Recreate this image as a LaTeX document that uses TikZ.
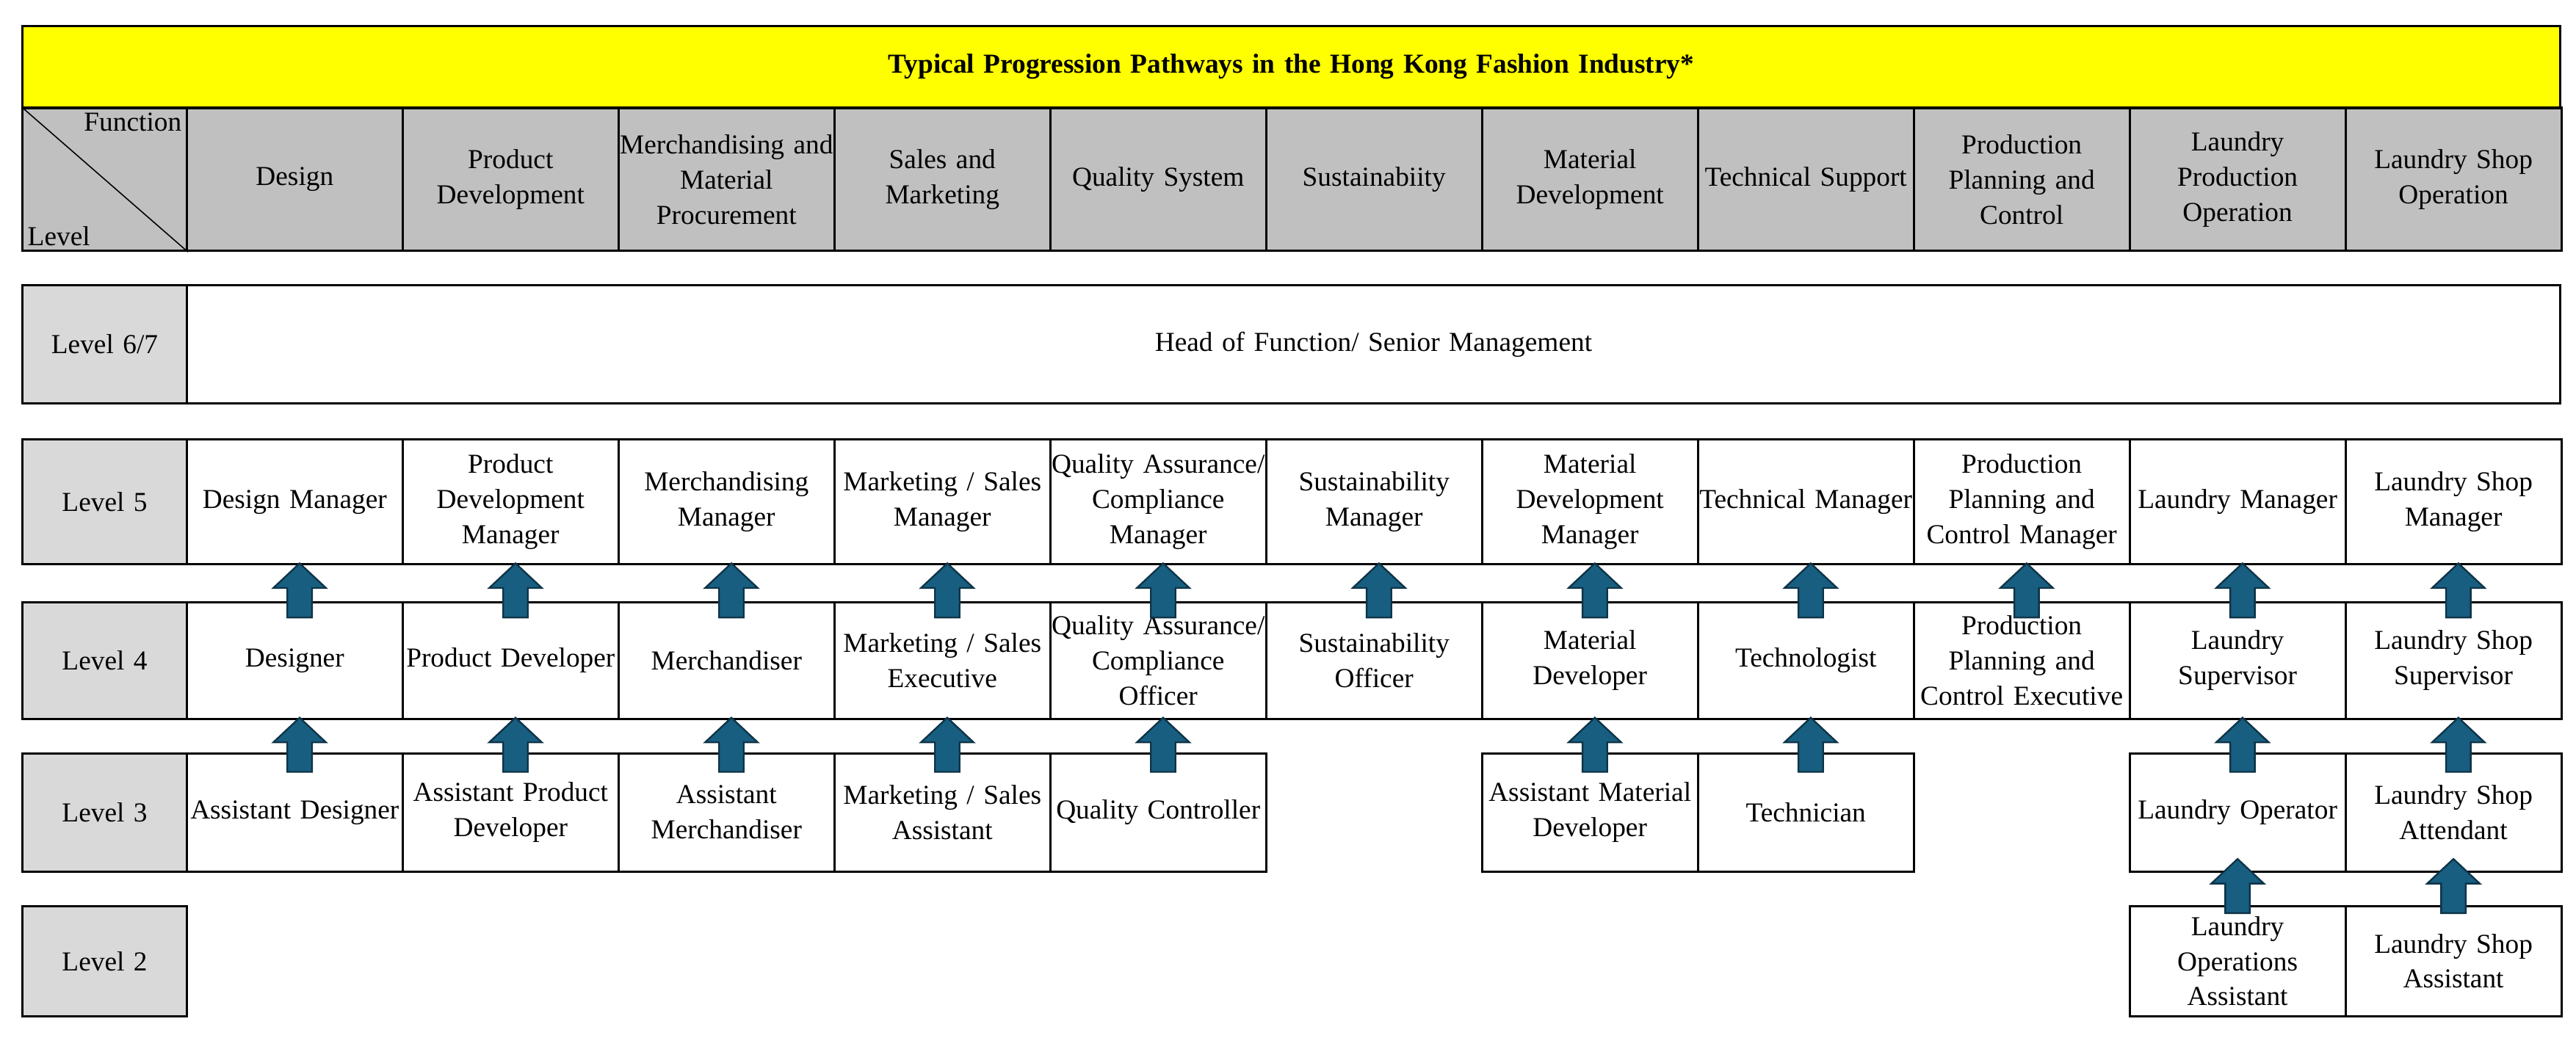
\documentclass[tikz,border=0pt]{standalone}
\usepackage{fontspec}
\setmainfont{Liberation Serif}
\usetikzlibrary{calc}
\definecolor{titleyellow}{RGB}{255,255,0}
\definecolor{headgray}{RGB}{192,192,192}
\definecolor{levelgray}{RGB}{217,217,217}
\definecolor{arrowblue}{RGB}{24,94,128}
\definecolor{arrowedge}{RGB}{14,52,72}
\newcommand\cellfont{\fontsize{9.5}{12.2}\selectfont}

\begin{document}
\begin{tikzpicture}[x=0.02cm,y=-0.02cm,
    cell/.style={draw, line width=0.8pt, anchor=north west, inner sep=0pt, align=center,
      text width=2.6cm, minimum width=2.628cm, font=\cellfont},
    head/.style={cell, fill=headgray, minimum height=1.74cm},
    lvl/.style={cell, fill=levelgray, text width=1.9cm, minimum width=2cm},
    uparr/.pic={\filldraw[fill=arrowblue, draw=arrowedge, line width=0.6pt]
      (-7.5,0) -- (-7.5,-18) -- (-16,-18) -- (0,-33) -- (16,-18) -- (7.5,-18) -- (7.5,0) -- cycle;}]
    \useasboundingbox (0,0) rectangle (1568,632);

    % title bar
    \node[cell, fill=titleyellow, minimum width=30.9cm, text width=30cm, minimum height=1cm,
      font=\cellfont\bfseries] (title) at (13,15) {Typical Progression Pathways in the Hong Kong Fashion Industry*};

    % header row
    \node[head, text width=1.9cm, minimum width=2cm] (corner) at (13,65) {};
    \draw[line width=0.4pt] (corner.north west) -- (corner.south east);
    \node[anchor=north east, font=\cellfont, inner sep=2pt] at (corner.north east) {Function};
    \node[anchor=south west, font=\cellfont, inner sep=2pt] at (corner.south west) {Level};
    \foreach \t [count=\i] in {{Design}, {Product\\Development}, {Merchandising and\\Material\\Procurement},
        {Sales and\\Marketing}, {Quality System}, {Sustainabiity}, {Material\\Development},
        {Technical Support}, {Production\\Planning and\\Control}, {Laundry\\Production\\Operation},
        {Laundry Shop\\Operation}}{
      \pgfmathsetmacro\cx{113+131.4*(\i-1)}
      \node[head] (h\i) at (\cx,65) {\t};
    }

    % level labels
    \node[lvl, minimum height=1.44cm] (lv67) at (13,173) {Level 6/7};
    \node[lvl, minimum height=1.52cm] (lv5) at (13,267) {Level 5};
    \node[lvl, minimum height=1.42cm] (lv4) at (13,366) {Level 4};
    \node[lvl, minimum height=1.44cm] (lv3) at (13,458) {Level 3};
    \node[lvl, minimum height=1.34cm] (lv2) at (13,551) {Level 2};

    % level 6/7
    \node[cell, minimum width=28.9cm, text width=28cm, minimum height=1.44cm] (top) at (113,173)
      {Head of Function/ Senior Management};

    % level 5
    \foreach \t [count=\i] in {{Design Manager}, {Product\\Development\\Manager}, {Merchandising\\Manager},
        {Marketing / Sales\\Manager}, {Quality Assurance/\\Compliance\\Manager}, {Sustainability\\Manager},
        {Material\\Development\\Manager}, {Technical Manager}, {Production\\Planning and\\Control Manager},
        {Laundry Manager}, {Laundry Shop\\Manager}}{
      \pgfmathsetmacro\cx{113+131.4*(\i-1)}
      \node[cell, minimum height=1.52cm] (a\i) at (\cx,267) {\t};
    }

    % level 4
    \foreach \t [count=\i] in {{Designer}, {Product Developer}, {Merchandiser},
        {Marketing / Sales\\Executive}, {Quality Assurance/\\Compliance Officer}, {Sustainability\\Officer},
        {Material Developer}, {Technologist}, {Production\\Planning and\\Control Executive},
        {Laundry\\Supervisor}, {Laundry Shop\\Supervisor}}{
      \pgfmathsetmacro\cx{113+131.4*(\i-1)}
      \node[cell, minimum height=1.42cm] (b\i) at (\cx,366) {\t};
      \pic at ($(b\i.north)+(3,10)$) {uparr};
    }

    % level 3
    \foreach \i/\t in {1/{Assistant Designer}, 2/{Assistant Product\\Developer}, 3/{Assistant\\Merchandiser},
        4/{Marketing / Sales\\Assistant}, 5/{Quality Controller}, 7/{Assistant Material\\Developer},
        8/{Technician}, 10/{Laundry Operator}, 11/{Laundry Shop\\Attendant}}{
      \pgfmathsetmacro\cx{113+131.4*(\i-1)}
      \node[cell, minimum height=1.44cm] (c\i) at (\cx,458) {\t};
      \pic at ($(c\i.north)+(3,12)$) {uparr};
    }

    % level 2
    \foreach \i/\t in {10/{Laundry\\Operations\\Assistant}, 11/{Laundry Shop\\Assistant}}{
      \pgfmathsetmacro\cx{113+131.4*(\i-1)}
      \node[cell, minimum height=1.34cm] (d\i) at (\cx,551) {\t};
      \pic at ($(d\i.north)+(0,5)$) {uparr};
    }
\end{tikzpicture}
\end{document}
